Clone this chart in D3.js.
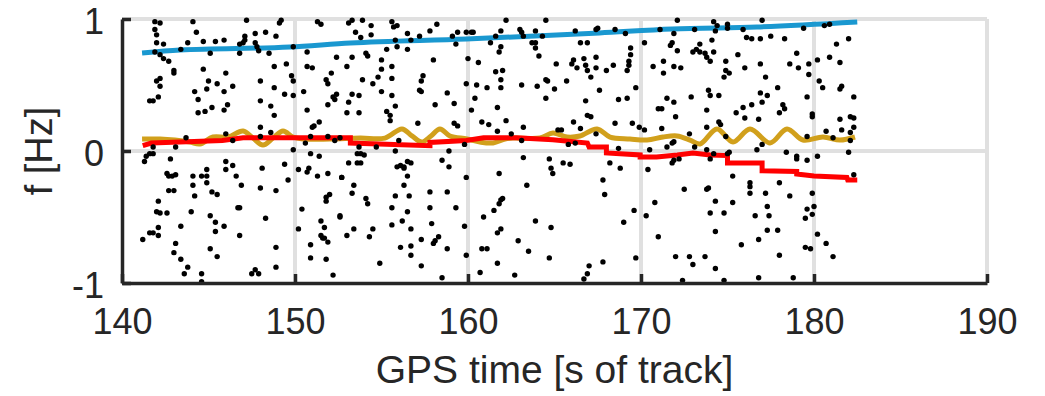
<!DOCTYPE html>
<html>
<head>
<meta charset="utf-8">
<script src="https://cdn.jsdelivr.net/npm/d3@7"></script>
<style>
  body { margin: 0; background: #fff; }
  svg { display: block; }
  text { font-family: "Liberation Sans", Arial, sans-serif; fill: #262626; }
</style>
</head>
<body>
<div id="chart"></div>
<script>
// axis ticks
const xTicks = [140, 150, 160, 170, 180, 190];
const yTicks = [-1, 0, 1];

// blue track (upper curve)
const blueTime = [141.16, 143.35, 149.7, 153.2, 159.9, 167.6, 171.8, 176.7, 182.5];
const blueFreq = [0.742, 0.765, 0.788, 0.818, 0.848, 0.894, 0.924, 0.939, 0.977];

// gold (wavy) track
const goldTime = [141.16, 142.2, 143.06, 143.93, 144.5, 145.26, 146.13, 147.0, 147.57, 148.15, 148.73, 149.31,
  149.88, 150.46, 152.02, 153.76, 155.2, 156.18, 156.76, 157.34, 157.86, 158.38, 158.96, 159.94, 160.69,
  161.45, 162.14, 162.6, 164.16, 164.91, 165.72, 166.47, 167.46, 168.21, 169.36, 170.35, 171.27, 172.08,
  172.83, 173.41, 174.39, 175.32, 176.3, 177.46, 178.44, 179.36, 180.52, 181.5, 182.37];
const goldFreq = [0.091, 0.091, 0.083, 0.068, 0.053, 0.106, 0.106, 0.152, 0.098, 0.045, 0.098, 0.152,
  0.106, 0.091, 0.091, 0.098, 0.098, 0.167, 0.114, 0.068, 0.114, 0.167, 0.114, 0.091, 0.068,
  0.061, 0.091, 0.098, 0.098, 0.136, 0.106, 0.114, 0.167, 0.106, 0.091, 0.083, 0.106, 0.114,
  0.083, 0.053, 0.167, 0.068, 0.167, 0.061, 0.167, 0.083, 0.106, 0.083, 0.106];

// red (stepped) track
const redTime = [141.2, 141.7, 145.8, 147.0, 153.2, 153.2, 157.8, 157.8, 159.9, 160.9, 162.8, 164.9, 166.9,
  167.0, 168.0, 168.0, 169.95, 169.95, 170.9, 172.1, 173.0, 174.0, 175.0, 175.0, 177.0, 177.0, 179.0,
  179.0, 180.0, 181.9, 181.95, 182.5];
const redFreq = [0.04, 0.06, 0.08, 0.10, 0.10, 0.06, 0.04, 0.065, 0.08, 0.10, 0.10, 0.085, 0.06,
  0.03, 0.03, -0.015, -0.03, -0.045, -0.045, -0.03, -0.015, -0.03, -0.035, -0.09, -0.09, -0.15, -0.155,
  -0.175, -0.19, -0.2, -0.22, -0.22];

// black detections [time, frequency]
const dotPoints = [
  [141.9,0.98],[142.2,0.97],[141.9,0.92],[142.0,0.88],[142.0,0.82],[142.4,0.81],[141.9,0.75],[142.2,0.73],
  [142.4,0.70],[142.7,0.68],[143.0,0.61],[143.0,0.59],[142.2,0.55],[142.0,0.53],[142.2,0.49],[142.1,0.41],
  [141.6,0.38],[141.8,0.38],[144.1,0.98],[144.3,0.90],[143.8,0.82],[143.4,0.77],[144.7,0.83],[145.4,0.83],
  [145.9,0.84],[145.1,0.74],[144.7,0.62],[146.0,0.59],[146.4,0.49],[145.0,0.53],[145.5,0.51],[144.2,0.45],
  [144.9,0.47],[145.9,0.45],[144.4,0.39],[146.1,0.35],[145.2,0.33],[144.8,0.30],[144.4,0.29],[145.9,0.31],
  [147.2,0.99],[147.1,0.87],[147.1,0.84],[147.0,0.82],[146.8,0.81],[146.8,0.74],[147.7,0.82],[147.8,0.79],
  [147.9,0.76],[147.7,0.89],[148.3,0.90],[148.9,0.87],[148.5,0.74],[149.1,0.97],[149.2,0.99],[148.8,0.64],
  [149.5,0.66],[148.0,0.53],[148.8,0.48],[148.0,0.38],[148.6,0.34],[149.4,0.43],[148.8,0.27],[148.0,0.18],
  [148.6,0.14],[149.8,0.57],[149.9,0.53],[149.9,0.42],[149.9,0.79],[150.7,0.75],[150.7,0.64],[151.0,0.63],
  [150.5,0.45],[150.7,0.31],[151.0,0.18],[151.1,0.19],[151.4,0.22],[151.3,0.98],[151.5,0.96],[152.4,0.71],
  [152.1,0.59],[151.8,0.54],[151.9,0.51],[152.4,0.43],[152.2,0.41],[152.3,0.39],[151.9,0.35],[146.0,0.13],
  [146.4,0.08],[148.0,0.11],[149.9,0.01],[150.6,0.06],[150.9,0.11],[151.9,0.11],[152.3,0.08],[152.6,0.10],
  [143.1,0.03],[143.7,0.10],
  [141.3,-0.08],[141.4,-0.04],[141.6,-0.02],[141.8,-0.02],[141.8,0.03],[142.8,-0.06],[142.6,-0.17],[142.7,-0.19],
  [142.9,-0.19],[143.1,-0.18],[142.7,-0.30],[143.0,-0.30],[142.1,-0.38],[142.0,-0.46],[142.2,-0.47],[142.6,-0.47],
  [142.1,-0.58],[142.1,-0.64],[141.6,-0.62],[141.8,-0.62],[141.2,-0.67],[143.1,-0.70],[143.0,-0.77],[143.4,-0.82],
  [143.8,-0.88],[143.6,-0.93],[144.6,-0.93],[144.6,-0.99],[143.4,-0.57],[144.0,-0.46],[144.2,-0.34],[144.1,-0.26],
  [144.1,-0.19],[144.6,-0.19],[144.9,-0.14],[144.9,-0.19],[144.9,-0.24],[145.2,-0.31],[145.5,-0.33],[146.0,-0.08],
  [146.4,-0.11],[146.0,-0.14],[146.6,-0.19],[146.9,-0.26],[146.7,-0.43],[146.8,-0.43],[146.8,-0.64],[145.1,-0.49],
  [145.4,-0.54],[145.4,-0.61],[145.9,-0.57],[145.1,-0.74],[145.5,-0.80],[147.5,-0.93],[147.7,-0.90],[147.9,-0.93],
  [148.0,-0.28],[148.1,-0.13],[148.3,-0.51],[148.9,-0.30],[149.4,-0.10],[149.6,-0.22],[148.9,-0.73],[148.9,-0.88],
  [150.2,-0.59],[150.2,-0.14],[150.4,-0.44],[150.7,-0.16],[150.8,-0.13],[150.9,-0.02],[151.4,-0.04],[151.9,-0.17],
  [151.3,-0.19],[152.7,-0.20],[151.8,-0.35],[151.8,-0.38],[152.0,-0.33],[151.5,-0.53],[151.7,-0.58],[151.5,-0.64],
  [151.6,-0.66],[151.7,-0.66],[151.9,-0.69],[152.6,-0.49],[150.9,-0.71],[150.9,-0.81],[151.8,-0.82],[152.2,-0.94],
  [153.1,0.97],[153.3,0.99],[153.9,0.99],[153.5,0.90],[153.8,0.86],[154.4,0.95],[154.4,0.88],[153.0,0.64],
  [153.3,0.71],[154.1,0.74],[154.2,0.72],[153.9,0.54],[154.5,0.51],[155.0,0.69],[155.0,0.62],[154.8,0.56],
  [155.0,0.45],[155.3,0.77],[155.6,0.98],[155.7,0.94],[155.9,0.95],[155.8,0.84],[155.9,0.79],[155.6,0.64],
  [155.6,0.55],[155.6,0.42],[156.5,0.89],[156.7,0.84],[156.5,0.77],[157.2,0.87],[157.4,0.57],[157.3,0.53],
  [157.2,0.46],[157.3,0.45],[157.8,0.91],[158.2,0.96],[158.0,0.69],[153.3,0.43],[153.7,0.42],[153.1,0.37],
  [153.7,0.29],[153.0,0.29],[155.3,0.30],[155.5,0.27],[155.5,0.23],[155.8,0.34],[158.1,0.35],[158.8,0.44],
  [159.2,0.36],[159.1,0.87],[159.4,0.90],[159.3,0.81],[159.9,0.90],[160.2,0.90],[160.3,0.90],[160.0,0.70],
  [160.6,0.67],[159.9,0.51],[160.5,0.50],[160.4,0.40],[160.2,0.31],[161.1,0.48],[161.6,0.87],[161.9,0.91],
  [162.2,0.99],[161.3,0.82],[161.9,0.79],[161.8,0.75],[161.6,0.60],[162.0,0.61],[161.9,0.54],[161.9,0.48],
  [161.7,0.33],[162.2,0.23],[163.2,0.87],[163.1,0.90],[163.0,0.92],[163.9,0.91],[163.7,0.82],[163.9,0.82],
  [163.9,0.78],[164.1,0.72],[164.5,0.99],[164.3,0.87],[163.1,0.50],[164.0,0.49],[164.5,0.54],[164.6,0.53],
  [165.0,0.47],[165.7,0.53],[164.5,0.40],[165.1,0.66],[166.0,0.66],[166.1,0.69],[166.3,0.63],[166.7,0.70],
  [166.8,0.65],[166.5,0.82],[166.9,0.82],[166.2,0.91],[166.9,0.61],[167.1,0.56],[166.8,0.38],[166.9,0.27],
  [167.1,0.26],[167.4,0.92],[167.5,0.93],[166.1,0.22],[166.5,0.17],[163.2,0.18],[165.2,0.16],[165.4,0.16],
  [161.7,0.15],[161.2,0.20],[160.8,0.22],[159.4,0.19],[159.2,0.21],[157.1,0.21],[156.0,0.08],[162.5,0.13],
  [163.1,0.08],[165.8,0.05],[166.2,0.06],[167.4,0.13],
  [153.7,0.03],[153.6,-0.02],[153.8,-0.02],[154.0,-0.03],[153.1,-0.09],[153.6,-0.09],[153.8,-0.09],[152.7,-0.20],
  [153.4,-0.26],[153.3,-0.32],[154.1,-0.36],[154.2,-0.40],[152.6,-0.50],[153.4,-0.59],[153.0,-0.64],[154.5,-0.59],
  [154.3,-0.65],[154.9,-0.85],[154.7,0.03],[155.8,0.0],[155.9,-0.12],[156.1,-0.11],[156.3,-0.12],[156.3,-0.13],
  [156.5,-0.08],[156.7,-0.09],[156.5,-0.19],[156.3,-0.26],[155.8,-0.34],[156.6,-0.34],[155.6,-0.43],[156.5,-0.46],
  [156.2,-0.53],[155.6,-0.56],[156.7,-0.59],[157.3,-0.67],[156.7,-0.72],[156.1,-0.73],[156.7,-0.79],[157.3,-0.87],
  [157.8,-0.31],[157.8,-0.43],[157.9,-0.55],[158.0,-0.70],[158.1,-0.68],[158.3,-0.65],[158.8,-0.31],[158.8,-0.74],
  [158.5,-0.07],[158.9,-0.12],[158.9,0.0],[159.3,-0.43],[159.8,-0.57],[159.9,-0.20],[159.9,-0.79],[159.8,0.05],
  [158.5,-0.96],[160.7,-0.92],[160.8,-0.74],[161.1,-0.74],[160.9,-0.50],[161.5,-0.45],[161.8,-0.17],[161.9,-0.37],
  [162.0,-0.36],[161.8,-0.40],[161.7,-0.62],[161.9,-0.59],[161.7,-0.85],[162.7,-0.94],[162.9,-0.68],[163.2,-0.05],
  [163.4,-0.26],[163.5,-0.76],[163.9,-0.53],[164.7,-0.06],[164.8,-0.13],[164.9,-0.17],[165.5,-0.09],[165.9,-0.10],
  [164.8,-0.58],[164.7,-0.81],[167.0,-0.87],[166.9,-0.93],[166.7,-0.97],
  [168.5,0.92],[169.1,0.89],[171.1,0.92],[171.9,0.89],[172.1,0.99],[173.1,0.92],[174.2,0.98],[174.4,0.95],
  [174.3,0.91],[175.0,0.96],[175.0,0.93],[175.9,0.92],[177.0,0.99],[176.1,0.86],[176.4,0.85],[176.9,0.85],
  [177.5,0.87],[178.3,0.85],[179.4,0.93],[180.6,0.95],[180.9,0.96],[181.3,0.81],[182.0,0.85],[167.4,0.71],
  [167.4,0.63],[168.0,0.61],[168.4,0.65],[169.2,0.61],[169.3,0.65],[169.3,0.68],[169.4,0.73],[169.4,0.78],
  [170.2,0.82],[171.7,0.80],[171.8,0.82],[172.1,0.76],[173.0,0.75],[173.2,0.77],[173.4,0.81],[173.4,0.75],
  [173.7,0.74],[173.8,0.71],[174.0,0.68],[174.2,0.75],[174.1,0.84],[175.6,0.73],[174.9,0.68],[174.9,0.61],
  [174.8,0.56],[175.1,0.59],[176.0,0.63],[176.9,0.66],[177.2,0.56],[178.6,0.66],[179.1,0.63],[179.0,0.74],
  [179.7,0.66],[179.7,0.58],[180.2,0.69],[180.9,0.71],[181.5,0.67],[180.3,0.53],[180.5,0.48],[181.5,0.47],
  [181.6,0.49],[182.3,0.41],[167.6,0.46],[168.7,0.39],[169.2,0.40],[169.7,0.48],[170.7,0.64],[171.3,0.68],
  [171.3,0.59],[171.9,0.64],[172.3,0.63],[171.5,0.40],[171.9,0.37],[171.0,0.32],[171.2,0.32],[172.0,0.26],
  [172.9,0.41],[173.9,0.46],[174.0,0.42],[174.5,0.42],[173.8,0.31],[173.8,0.18],[174.5,0.22],[174.6,0.20],
  [175.5,0.29],[175.9,0.33],[176.0,0.25],[176.4,0.35],[176.9,0.44],[177.0,0.37],[177.3,0.42],[176.8,0.24],
  [177.9,0.48],[178.2,0.35],[178.3,0.32],[178.0,0.29],[179.6,0.41],[179.9,0.28],[179.9,0.26],[181.5,0.24],
  [182.1,0.26],[182.3,0.25],[182.3,0.18],[168.5,0.21],[169.5,0.21],[169.9,0.18],[170.2,0.16],[171.2,0.17],
  [181.6,0.16],[182.1,0.14],[180.7,0.15],[181.1,0.10],[182.1,0.08],[179.6,0.11],[172.8,0.13],[171.9,0.07],
  [174.9,0.11],
  [168.7,0.02],[170.5,0.01],[171.5,0.03],[171.8,0.06],[172.2,-0.06],[171.9,-0.07],[171.8,-0.09],[173.1,0.03],
  [173.8,0.01],[174.0,-0.06],[174.2,-0.02],[175.0,-0.02],[175.1,-0.01],[176.7,0.01],[177.0,0.05],[178.4,-0.01],
  [179.0,-0.04],[179.0,-0.06],[179.6,-0.07],[180.2,-0.04],[182.0,-0.01],[182.3,-0.18],[168.2,-0.09],[168.8,-0.13],
  [167.8,-0.22],[167.9,-0.33],[170.4,-0.14],[172.5,-0.29],[173.8,-0.29],[173.9,-0.28],[175.3,-0.19],[176.3,-0.24],
  [176.3,-0.27],[176.3,-0.32],[177.2,-0.32],[178.0,-0.24],[177.3,-0.42],[178.6,-0.34],[179.9,-0.32],[180.0,-0.42],
  [179.6,-0.44],[179.9,-0.48],[179.5,-0.51],[180.2,-0.63],[170.8,-0.39],[174.3,-0.38],[175.3,-0.39],[169.6,-0.45],
  [170.3,-0.49],[169.0,-0.54],[174.0,-0.47],[174.8,-0.47],[176.6,-0.49],[177.4,-0.49],[171.0,-0.65],[174.3,-0.61],
  [177.3,-0.60],[177.9,-0.60],[176.8,-0.67],[175.8,-0.71],[179.5,-0.73],[179.8,-0.74],[180.7,-0.70],[181.1,-0.80],
  [178.0,-0.79],[172.0,-0.80],[172.8,-0.80],[173.7,-0.80],[173.0,-0.86],[174.3,-0.89],[169.7,-0.81],[167.8,-0.84],
  [172.4,-0.98],[174.8,-0.98],[176.8,-0.96],[178.8,-0.96]
];

const width = 1045;
const height = 396;
const margin = { left: 122, right: 58, top: 19, bottom: 113 };

const x = d3.scaleLinear().domain([140, 190]).range([margin.left, width - margin.right]);
const y = d3.scaleLinear().domain([-1, 1]).range([height - margin.bottom, margin.top]);

const svg = d3.select('#chart')
  .append('svg')
  .attr('width', width)
  .attr('height', height);

// grid lines and box
const grid = svg.append('g')
  .attr('stroke', '#e0e0e0')
  .attr('stroke-width', 4);

grid.selectAll('.vgrid')
  .data(xTicks.slice(1, -1))
  .join('line')
  .attr('x1', d => x(d)).attr('x2', d => x(d))
  .attr('y1', y(-1)).attr('y2', y(1));

grid.selectAll('.hgrid')
  .data([0])
  .join('line')
  .attr('x1', x(140)).attr('x2', x(190))
  .attr('y1', d => y(d)).attr('y2', d => y(d));

grid.append('line')
  .attr('x1', x(140)).attr('x2', x(190))
  .attr('y1', y(1)).attr('y2', y(1));
grid.append('line')
  .attr('x1', x(190)).attr('x2', x(190))
  .attr('y1', y(-1)).attr('y2', y(1));

// tracks
const makeLine = (times, freqs, curve) => d3.line()
  .x(i => x(times[i]))
  .y(i => y(freqs[i]))
  .curve(curve)(d3.range(times.length));

svg.append('path')
  .attr('d', makeLine(blueTime, blueFreq, d3.curveMonotoneX))
  .attr('fill', 'none')
  .attr('stroke', '#1a98d0')
  .attr('stroke-width', 5);

svg.append('path')
  .attr('d', makeLine(goldTime, goldFreq, d3.curveCatmullRom))
  .attr('fill', 'none')
  .attr('stroke', '#d1a01c')
  .attr('stroke-width', 5);

svg.append('path')
  .attr('d', makeLine(redTime, redFreq, d3.curveLinear))
  .attr('fill', 'none')
  .attr('stroke', '#ff0000')
  .attr('stroke-width', 5);

// detections
svg.append('g')
  .selectAll('circle')
  .data(dotPoints)
  .join('circle')
  .attr('cx', d => x(d[0]))
  .attr('cy', d => y(d[1]))
  .attr('r', 2.7)
  .attr('fill', '#000');

// axes
const xAxis = d3.axisBottom(x).tickValues(xTicks).tickFormat(d => String(d))
  .tickSize(-9).tickSizeOuter(0).tickPadding(25);
const yAxis = d3.axisLeft(y).tickValues(yTicks).tickFormat(d => String(d))
  .tickSize(-9).tickSizeOuter(0).tickPadding(18);

const xAxisGroup = svg.append('g')
  .attr('transform', `translate(0, ${y(-1)})`)
  .call(xAxis);
const yAxisGroup = svg.append('g')
  .attr('transform', `translate(${x(140)}, 0)`)
  .call(yAxis);

[xAxisGroup, yAxisGroup].forEach(g => {
  g.attr('font-size', null).attr('font-family', null);
  g.select('.domain').attr('stroke', '#262626').attr('stroke-width', 3.5);
  g.selectAll('.tick line').attr('stroke', '#262626').attr('stroke-width', 3.5);
  g.selectAll('.tick text').attr('font-size', 36).attr('fill', '#262626');
});
yAxisGroup.selectAll('.tick text').attr('dy', '0.4em');

// axis titles
svg.append('text')
  .attr('x', (x(140) + x(190)) / 2)
  .attr('y', 383)
  .attr('text-anchor', 'middle')
  .attr('font-size', 39)
  .text('GPS time [s of track]');

svg.append('text')
  .attr('transform', `translate(52, ${y(0)}) rotate(-90)`)
  .attr('text-anchor', 'middle')
  .attr('font-size', 38)
  .text('f [Hz]');
</script>
</body>
</html>
